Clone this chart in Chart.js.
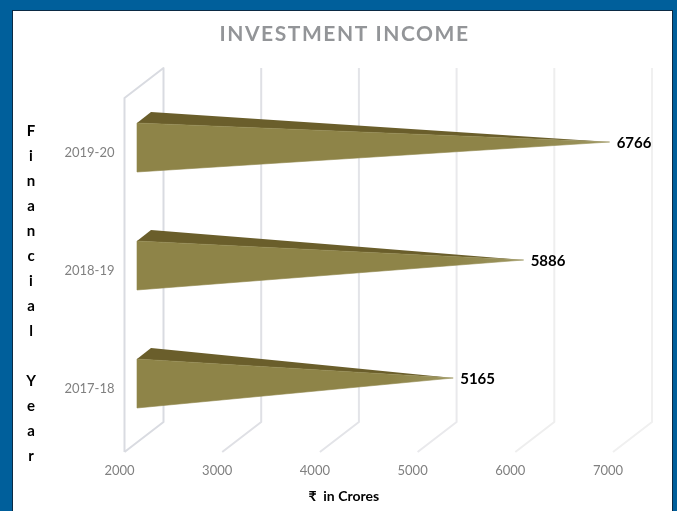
<!DOCTYPE html>
<html><head><meta charset="utf-8">
<script src="https://cdn.jsdelivr.net/npm/chart.js@4"></script>
<style>
html,body{margin:0;padding:0;background:#005f9b;width:677px;height:511px;overflow:hidden}
#panel{position:absolute;left:12px;top:10px;width:661px;height:501px;background:#fff;border:1px solid #0b2a44;border-bottom:none;box-sizing:border-box}
#c{position:absolute;left:0;top:0}
</style></head><body>
<div id="panel"></div>
<canvas id="c" width="677" height="511"></canvas>
<script>
const categories = ['2019-20','2018-19','2017-18'];
const income = [6766,5886,5165];
const titleText = 'INVESTMENT INCOME';
const xTitle = '₹  in Crores';
const yTitle = 'Financial Year';
const gridColors = ['#d9dbe1','#dfe0e5','#e3e4e8','#e9e9ec','#eeeeee','#f0f0f0'];
const FRONT='#8e8448', TOP='#6a5e2b';
const DEPTH={x:39,y:30};

const pyramid={
 id:'pyramid',
 beforeDraw(chart){
  const ctx=chart.ctx;
  const b=chart.titleBlock;
  if(b&&!b._sp){const d=b.draw;b.draw=function(){ctx.save();ctx.letterSpacing='1.55px';ctx.translate(38,0);d.apply(b,arguments);ctx.restore();};b._sp=1;}
  const sx=chart.scales.x, sy=chart.scales.y;
  if(!sx._t){const d=sx.drawTitle;sx.drawTitle=function(){ctx.save();ctx.translate(-25,-6);d.apply(sx,arguments);ctx.restore();};sx._t=1;}
  if(!sy._t){
   sy.drawTitle=function(){
    const t=sy.options.title;
    ctx.save();ctx.font='bold 15px Lato';ctx.fillStyle=t.color;ctx.textAlign='center';ctx.textBaseline='middle';
    [...t.text].forEach((ch,i)=>ctx.fillText(ch,31,131+i*25));
    ctx.restore();
   };sy._t=1;
  }
 },
 beforeDatasetsDraw(chart){
  const ctx=chart.ctx,a=chart.chartArea,sx=chart.scales.x;
  const backTop=a.top-DEPTH.y, backBot=a.bottom-DEPTH.y;
  ctx.save();ctx.lineWidth=2;ctx.lineJoin='round';
  sx.ticks.forEach((t,i)=>{
   const px=sx.getPixelForValue(t.value);
   ctx.strokeStyle=gridColors[i];
   ctx.beginPath();
   if(i===0){ctx.moveTo(px,a.bottom);ctx.lineTo(px,a.top);ctx.lineTo(px+DEPTH.x,backTop);ctx.lineTo(px+DEPTH.x,backBot);ctx.lineTo(px,a.bottom);}
   else{ctx.moveTo(px+DEPTH.x,backTop);ctx.lineTo(px+DEPTH.x,backBot);ctx.lineTo(px,a.bottom);}
   ctx.stroke();
  });
  ctx.restore();
 },
 beforeDatasetDraw(chart,args){
  const ctx=chart.ctx,meta=args.meta,sx=chart.scales.x;
  const base=sx.getPixelForValue(sx.min);
  meta.data.forEach(el=>{
   const h=el.height;
   const apex={x:el.x+DEPTH.x/2,y:el.y-DEPTH.y/2};
   const fx=base+12.5,fy=el.y-9.5,bx=base+26.5,by=el.y-20.5;
   ctx.save();
   ctx.fillStyle=TOP;ctx.beginPath();ctx.moveTo(fx,fy-h/2);ctx.lineTo(bx,by-h/2);ctx.lineTo(apex.x,apex.y);ctx.closePath();ctx.fill();
   const g=ctx.createLinearGradient(fx,0,apex.x,0);
   g.addColorStop(0,FRONT);g.addColorStop(.8,FRONT);g.addColorStop(1,'#9d9660');
   ctx.fillStyle=g;ctx.strokeStyle=g;ctx.lineWidth=.6;ctx.beginPath();ctx.moveTo(fx,fy-h/2);ctx.lineTo(fx,fy+h/2);ctx.lineTo(apex.x,apex.y);ctx.closePath();ctx.fill();ctx.stroke();
   ctx.restore();
  });
  return false;
 },
 afterDatasetsDraw(chart){
  const ctx=chart.ctx,meta=chart.getDatasetMeta(0);
  ctx.save();ctx.font='bold 15px Lato';ctx.fillStyle='#000';ctx.textAlign='left';ctx.textBaseline='middle';
  meta.data.forEach((el,i)=>ctx.fillText(String(income[i]),el.x+DEPTH.x/2+7,el.y-14));
  ctx.restore();
 }
};

new Chart(document.getElementById('c'),{
 type:'bar',
 data:{labels:categories,datasets:[{label:'Investment Income',data:income,backgroundColor:FRONT,categoryPercentage:1,barPercentage:0.415}]},
 options:{
  indexAxis:'y',responsive:false,animation:false,
  layout:{padding:{left:0,right:64,top:0,bottom:0}},
  plugins:{
   legend:{display:false},tooltip:{enabled:false},
   title:{display:true,text:titleText,color:'#939598',font:{family:'Lato',size:21,weight:'bold'},padding:{top:22,bottom:50.8}}
  },
  scales:{
   x:{type:'linear',min:2000,max:7000,
     grid:{display:false,drawTicks:false},border:{display:false},
     ticks:{stepSize:1000,color:'#808080',font:{family:'Lato',size:13},labelOffset:-5,padding:11,maxRotation:0,callback:v=>String(v)},
     title:{display:true,text:xTitle,color:'#000',font:{family:'Lato',size:14,weight:'bold'},padding:{top:6,bottom:0}},
     afterFit(s){s.height=59;}},
   y:{type:'category',
     grid:{display:false,drawTicks:false},border:{display:false},
     ticks:{color:'#808080',font:{family:'Lato',size:13},labelOffset:-4,padding:10},
     title:{display:true,text:yTitle,color:'#000'},
     afterFit(s){s.width=124.5;}}
  }
 },
 plugins:[pyramid]
});
</script></body></html>
